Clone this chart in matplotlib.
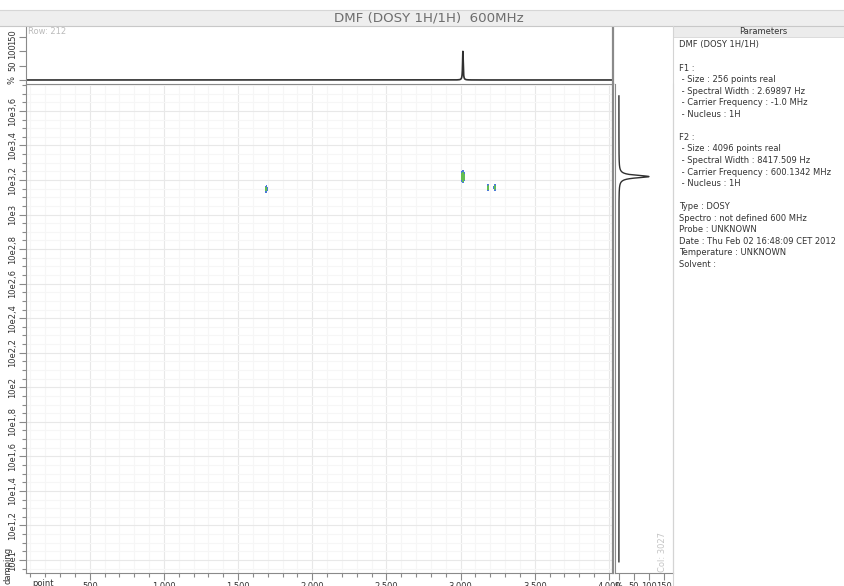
import numpy as np
import matplotlib
matplotlib.use("Agg")
import matplotlib.pyplot as plt
from matplotlib.patches import Rectangle
from matplotlib.lines import Line2D
from matplotlib.ticker import MultipleLocator, FuncFormatter

W, H, DPI = 845, 586, 100

# --- spectrum data ---
title = "DMF (DOSY 1H/1H)  600MHz"
peak_pts = [1690, 3015, 3185, 3230]        # F2 position (points)
peak_logd = [3.148, 3.22, 3.156, 3.156]    # damping, log10
peak_amp = [0.40, 1.00, 0.40, 0.40]
peak_wx = [4, 6, 4, 4]                     # widths in points
peak_wy = [0.014, 0.017, 0.013, 0.013]     # widths in decades

row_peak_pt = 3015      # top projection (Row: 212)
row_peak_pct = 100
col_peak_logd = 3.22    # side projection (Col: 3027)
col_peak_pct = 100
col_range = (0.99, 3.687)

x_lim = (70, 4027)
y_lim = (0.925, 3.756)
pct_ticks = [0, 50, 100, 150]
pct_labels = ["%", "50", "100", "150"]

params = [
    "DMF (DOSY 1H/1H)", "",
    "F1 :",
    " - Size : 256 points real",
    " - Spectral Width : 2.69897 Hz",
    " - Carrier Frequency : -1.0 MHz",
    " - Nucleus : 1H", "",
    "F2 :",
    " - Size : 4096 points real",
    " - Spectral Width : 8417.509 Hz",
    " - Carrier Frequency : 600.1342 MHz",
    " - Nucleus : 1H", "",
    "Type : DOSY",
    "Spectro : not defined 600 MHz",
    "Probe : UNKNOWN",
    "Date : Thu Feb 02 16:48:09 CET 2012",
    "Temperature : UNKNOWN",
    "Solvent :",
]

plt.rcParams['font.family'] = ['DejaVu Sans']
AX_COL = '#8a8a8a'
TXT_COL = '#333333'
FS = 6.0


def rect(x0, y0, x1, y1):
    return [x0 / W, 1 - y1 / H, (x1 - x0) / W, (y1 - y0) / H]


def fy(y):
    return 1 - y / H


def log_label(v, pos=None):
    v = round(v, 2)
    whole = int(np.floor(v + 1e-9))
    frac = int(round((v - whole) * 10))
    if frac == 0:
        return f"10e{whole}"
    return f"10e{whole},{frac}"


def lorentz(x, x0, hw):
    return 1.0 / (1.0 + ((x - x0) / hw) ** 2)


fig = plt.figure(figsize=(W / DPI, H / DPI), dpi=DPI)
fig.patch.set_facecolor('white')

# title bar
fig.patches.append(Rectangle((0, fy(26)), 1, (26 - 10) / H, transform=fig.transFigure,
                             facecolor='#eeeeee', edgecolor='none', zorder=0))
fig.add_artist(Line2D([0, 1], [fy(10), fy(10)], color='#d6d6d6', lw=0.8))
fig.add_artist(Line2D([0, 1], [fy(26), fy(26)], color='#c8c8c8', lw=0.8))
fig.text(429 / W, fy(18), title, ha='center', va='center', fontsize=9.6,
         color='#6e6e6e')

# --- main 2D map ---
ax = fig.add_axes(rect(26, 84, 613, 573))
ax.set_xlim(*x_lim)
ax.set_ylim(*y_lim)
ax.xaxis.set_major_locator(MultipleLocator(500))
ax.xaxis.set_minor_locator(MultipleLocator(100))
ax.yaxis.set_major_locator(MultipleLocator(0.2))
ax.yaxis.set_minor_locator(MultipleLocator(0.05))
ax.xaxis.set_major_formatter(FuncFormatter(lambda v, p: f"{int(v):,}"))
ax.yaxis.set_major_formatter(FuncFormatter(log_label))
ax.grid(which='minor', color='#f6f6f6', lw=0.8)
ax.grid(which='major', color='#e8e8e8', lw=0.8)
ax.set_axisbelow(True)
ax.tick_params(which='both', direction='out', colors=AX_COL, labelcolor=TXT_COL,
               labelsize=FS, width=0.8)
ax.tick_params(which='major', length=5, pad=1.5)
ax.tick_params(which='minor', length=3)
for lab in ax.get_yticklabels():
    lab.set_rotation(90)
    lab.set_va('center')
ax.spines['top'].set_visible(False)
for s in ['left', 'bottom', 'right']:
    ax.spines[s].set_color(AX_COL)
ax.spines['right'].set_linewidth(1.6)

gx = np.arange(1550, 3350, 1.0)
gy = np.arange(3.0, 3.4, 0.001)
XX, YY = np.meshgrid(gx, gy)
Z = np.zeros_like(XX)
for p, d, a, wx, wy in zip(peak_pts, peak_logd, peak_amp, peak_wx, peak_wy):
    Z += a * np.exp(-0.5 * ((XX - p) / wx) ** 2 - 0.5 * ((YY - d) / wy) ** 2)
ax.contourf(XX, YY, Z, levels=[0.15, 0.3, 10], colors=['#4a7ad8', '#62bd52'])

ax.text(0.01, -0.012, "point", transform=ax.transAxes, ha='left', va='top',
        fontsize=FS, color=TXT_COL)
fig.text(8 / W, fy(565), "damping", rotation=90, ha='center', va='center',
         fontsize=FS, color=TXT_COL)

# --- top projection ---
axt = fig.add_axes(rect(26, 26, 613, 84))
axt.set_xlim(*x_lim)
axt.set_ylim(-14, 188)
xr = np.linspace(x_lim[0], x_lim[1], 8000)
axt.plot(xr, row_peak_pct * lorentz(xr, row_peak_pt, 2.5), color='#303030', lw=1.2)
axt.set_xticks([])
axt.set_yticks(pct_ticks)
axt.set_yticklabels(pct_labels)
axt.tick_params(direction='out', length=5, pad=1.5, colors=AX_COL,
                labelcolor=TXT_COL, labelsize=FS, width=0.8)
for lab in axt.get_yticklabels():
    lab.set_rotation(90)
    lab.set_va('center')
axt.spines['top'].set_visible(False)
for s in ['left', 'bottom', 'right']:
    axt.spines[s].set_color(AX_COL)
axt.spines['right'].set_linewidth(1.6)
axt.text(0.004, 0.9, "Row: 212", transform=axt.transAxes, ha='left', va='center',
         fontsize=FS, color='#bbbbbb')

# --- side projection ---
axr = fig.add_axes(rect(615, 84, 673, 573))
axr.set_ylim(*y_lim)
axr.set_xlim(-13, 180)
yr = np.linspace(col_range[0], col_range[1], 6000)
axr.plot(col_peak_pct * lorentz(yr, col_peak_logd, 0.009), yr, color='#303030', lw=1.0)
axr.set_yticks([])
axr.set_xticks(pct_ticks)
axr.set_xticklabels(pct_labels)
axr.tick_params(direction='out', length=5, pad=1.5, colors=AX_COL,
                labelcolor=TXT_COL, labelsize=FS, width=0.8)
axr.spines['top'].set_visible(False)
axr.spines['left'].set_color(AX_COL)
axr.spines['bottom'].set_color(AX_COL)
axr.spines['right'].set_color('#d4d4d4')
axr.text(0.82, 0.003, "Col: 3027", transform=axr.transAxes, rotation=90,
         ha='center', va='bottom', fontsize=FS, color='#c4c4c4')

# --- parameters panel ---
fig.add_artist(Line2D([673 / W, 673 / W], [fy(586), fy(26)], color='#d4d4d4', lw=0.8))
fig.patches.append(Rectangle((673 / W, fy(37)), (W - 673) / W, 11 / H,
                             transform=fig.transFigure, facecolor='#ececec',
                             edgecolor='#d8d8d8', lw=0.6, zorder=0))
fig.text(763 / W, fy(32), "Parameters", ha='center', va='center', fontsize=FS,
         color=TXT_COL)
for i, line in enumerate(params):
    fig.text(679 / W, fy(45 + i * 11.55), line, ha='left', va='center',
             fontsize=FS, color=TXT_COL)

fig.savefig("out.png", dpi=DPI)
